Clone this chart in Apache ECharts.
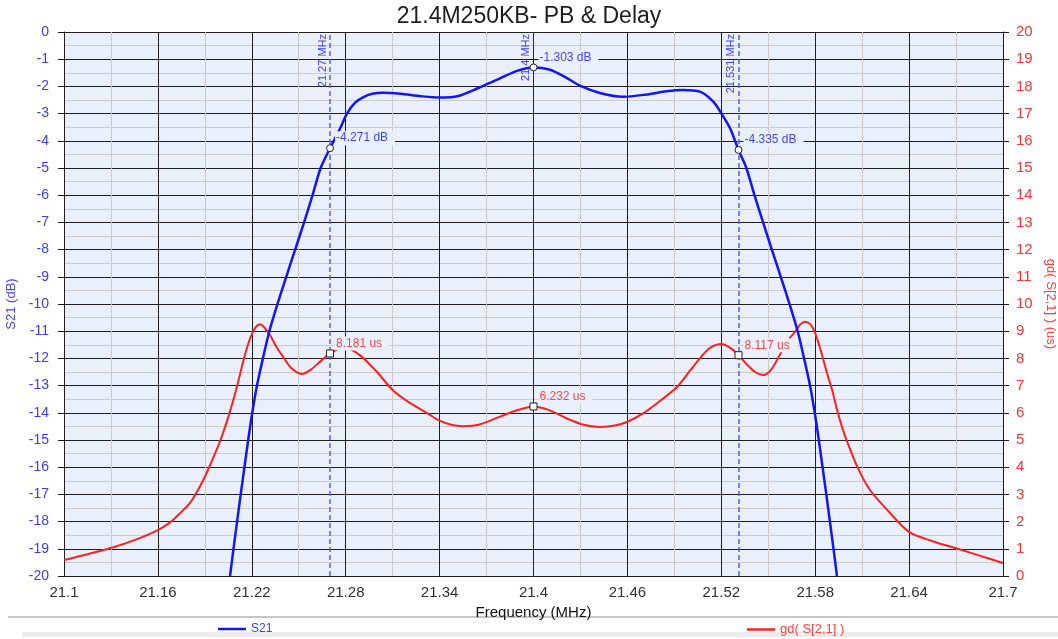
<!DOCTYPE html>
<html>
<head>
<meta charset="utf-8">
<script src="https://cdn.jsdelivr.net/npm/echarts@6/dist/echarts.min.js"></script>
<style>
  html, body { margin: 0; padding: 0; background: #fff; }
  #chart { width: 1058px; height: 639px; }
</style>
</head>
<body>
<div id="chart"></div>
<script>
// S21 (dB) trace
var s21Freq = [21.2061, 21.2083, 21.2106, 21.2129, 21.2153, 21.2177, 21.2203, 21.2233, 21.2271, 21.2312, 21.2364,
  21.242, 21.2477, 21.2534, 21.2588, 21.264, 21.27, 21.2764, 21.2808, 21.286, 21.291, 21.297, 21.304,
  21.315, 21.328, 21.34, 21.352, 21.365, 21.378, 21.39, 21.4, 21.41, 21.42, 21.43, 21.443, 21.457,
  21.472, 21.485, 21.4955, 21.5064, 21.5149, 21.52, 21.5256, 21.531, 21.536, 21.5412, 21.5467, 21.5523,
  21.558, 21.5636, 21.5688, 21.5729, 21.5767, 21.5797, 21.5823, 21.5847, 21.5871, 21.5894, 21.5917, 21.5939];
var s21Db = [-20, -19, -18, -17, -16, -15, -14, -13, -12, -11, -10,
  -9, -8, -7, -6, -5, -4.271, -3.55, -3.0, -2.6, -2.4, -2.27, -2.23,
  -2.27, -2.36, -2.41, -2.35, -2.05, -1.72, -1.42, -1.303, -1.38, -1.65, -1.98, -2.25, -2.38,
  -2.3, -2.18, -2.13, -2.19, -2.56, -2.99, -3.54, -4.335, -5, -6, -7, -8,
  -9, -10, -11, -12, -13, -14, -15, -16, -17, -18, -19, -20];

// group delay (us) trace
var gdFreq = [21.1, 21.115, 21.13, 21.145, 21.16, 21.168, 21.174, 21.18, 21.185, 21.19, 21.195,
  21.2, 21.205, 21.21, 21.215, 21.219, 21.2225, 21.2255, 21.2285, 21.2316, 21.236,
  21.24, 21.245, 21.252, 21.258, 21.264, 21.27, 21.279, 21.289, 21.3, 21.31, 21.32, 21.332, 21.34,
  21.348, 21.355, 21.365, 21.3787, 21.39, 21.4, 21.41, 21.421, 21.432, 21.4425, 21.452, 21.46, 21.47,
  21.48, 21.4917, 21.5, 21.508, 21.513, 21.52, 21.526, 21.531, 21.536, 21.5415, 21.5467, 21.552, 21.559,
  21.563, 21.567, 21.5705, 21.5735, 21.577, 21.58, 21.584, 21.5875, 21.591, 21.594, 21.597, 21.6,
  21.607, 21.615, 21.626, 21.64, 21.655, 21.67, 21.685, 21.7];
var gdUs = [0.59, 0.8, 1.03, 1.32, 1.69, 1.98, 2.3, 2.65, 3.1, 3.65, 4.3,
  5.0, 5.85, 6.85, 8.0, 8.75, 9.15, 9.26, 9.1, 8.86, 8.4,
  8.06, 7.66, 7.43, 7.6, 7.9, 8.181, 8.4, 8.12, 7.5, 6.84, 6.4, 5.99, 5.71,
  5.55, 5.51, 5.56, 5.86, 6.1, 6.232, 6.1, 5.8, 5.56, 5.48, 5.53, 5.67, 5.98,
  6.4, 6.95, 7.55, 8.12, 8.4, 8.53, 8.38, 8.117, 7.8, 7.5, 7.39, 7.6, 8.3,
  8.7, 8.97, 9.25, 9.35, 9.25, 8.93, 8.2, 7.46, 6.8, 6.1, 5.5, 5.0,
  4.0, 3.16, 2.43, 1.62, 1.28, 1.02, 0.75, 0.48];

// markers
var markerFreq = [21.27, 21.4, 21.531];
var markerDb = [-4.271, -1.303, -4.335];
var markerUs = [8.181, 6.232, 8.117];

var plotBg = '#e9f0fb';
var blue = '#1414f5';
var red = '#ff1f1f';
var font = 'Liberation Sans, Arial, sans-serif';

function pairs(xs, ys) {
  return xs.map(function (x, i) { return [x, ys[i]]; });
}

var chart = echarts.init(document.getElementById('chart'));

var markerLines = markerFreq.map(function (f, i) {
  var center = i === 1;
  return [
    { coord: [f, -20],
      lineStyle: center ? { color: '#1a1aa8', type: 'solid', width: 1 } : { color: '#5a5aff', type: [5, 3], width: 1.5 },
      label: { formatter: f + ' MHz' } },
    { coord: [f, 0] }
  ];
});

function markLabel(unit) {
  return {
    show: true,
    position: 'right',
    distance: 1,
    offset: [0, -10],
    formatter: function (p) { return p.value.toFixed(3) + ' ' + unit; },
    fontSize: 12,
    fontFamily: font,
    color: unit === 'dB' ? '#4545ff' : '#ff4545',
    backgroundColor: plotBg,
    padding: [1, 7, 1, 1]
  };
}

chart.setOption({
  animation: false,
  backgroundColor: '#fff',
  title: {
    text: '21.4M250KB- PB & Delay',
    left: 'center',
    top: 0,
    textStyle: { fontSize: 23, fontWeight: 'normal', color: '#1e1e1e', fontFamily: font }
  },
  grid: {
    left: 64, right: 55, top: 32, bottom: 63,
    outerBoundsMode: 'none',
    containLabel: false,
    show: true, backgroundColor: plotBg, borderWidth: 0
  },
  legend: [
    {
      data: [{ name: 'S21', textStyle: { color: '#4040ff' } }],
      left: 213, top: 618, icon: 'rect', itemWidth: 28, itemHeight: 2.5,
      textStyle: { fontSize: 12, fontFamily: font }
    },
    {
      data: [{ name: 'gd( S[2,1] )', textStyle: { color: '#ff4040' } }],
      left: 742, top: 618, icon: 'rect', itemWidth: 28, itemHeight: 2.5,
      textStyle: { fontSize: 13, fontFamily: font }
    }
  ],
  graphic: [
    { type: 'line', shape: { x1: 8, y1: 617, x2: 1058, y2: 617 }, style: { stroke: '#8c8c8c', lineWidth: 1 }, silent: true },
    { type: 'rect', shape: { x: 22, y: 632, width: 1036, height: 5 }, style: { fill: '#ececec' }, silent: true }
  ],
  xAxis: {
    type: 'value',
    min: 21.1, max: 21.7, interval: 0.06,
    name: 'Frequency (MHz)',
    nameLocation: 'middle',
    nameGap: 25,
    nameTextStyle: { fontSize: 15, color: '#111', fontFamily: font },
    axisLine: { show: true, onZero: false, lineStyle: { color: '#1e1e1e' } },
    axisTick: { show: false },
    axisLabel: { margin: 9, fontSize: 15, color: '#333', fontFamily: font },
    splitLine: { show: true, lineStyle: { color: '#1e1e1e', width: 1 } },
    minorTick: { show: false, splitNumber: 2 },
    minorSplitLine: { show: true, lineStyle: { color: '#cbcbcb', width: 1 } }
  },
  yAxis: [
    {
      type: 'value',
      min: -20, max: 0, interval: 1,
      name: 'S21 (dB)',
      nameLocation: 'middle',
      nameGap: 43,
      nameTextStyle: { fontSize: 13, color: '#4545ff', fontFamily: font },
      axisLine: { show: true, lineStyle: { color: '#1e1e1e' } },
      axisTick: { show: true, length: 6, lineStyle: { color: '#1e1e1e' } },
      axisLabel: { margin: 15, fontSize: 14, color: '#3c3cff', fontFamily: font },
      splitLine: { show: true, lineStyle: { color: '#1e1e1e', width: 1 } },
      minorTick: { show: false, splitNumber: 2 },
      minorSplitLine: { show: true, lineStyle: { color: '#cbcbcb', width: 1 } }
    },
    {
      type: 'value',
      min: 0, max: 20, interval: 1,
      position: 'right',
      name: 'gd( S[2,1] ) (us)',
      nameLocation: 'middle',
      nameRotate: -90,
      nameGap: 36,
      nameTextStyle: { fontSize: 13, color: '#ff3b3b', fontFamily: font },
      axisLine: { show: true, lineStyle: { color: '#1e1e1e' } },
      axisTick: { show: true, length: 6, lineStyle: { color: '#1e1e1e' } },
      axisLabel: { margin: 13, fontSize: 15, color: '#ff3333', fontFamily: font },
      splitLine: { show: false }
    }
  ],
  series: [
    {
      name: 'S21',
      type: 'line',
      yAxisIndex: 0,
      data: pairs(s21Freq, s21Db),
      symbol: 'none',
      smooth: 0.3,
      lineStyle: { color: blue, width: 2.5 },
      itemStyle: { color: blue },
      z: 3,
      markLine: {
        silent: true,
        symbol: ['none', 'none'],
        animation: false,
        label: {
          show: true,
          position: 'insideEndTop',
          distance: 2,
          fontSize: 11,
          color: '#4040ff',
          fontFamily: font
        },
        data: markerLines
      },
      markPoint: {
        symbol: 'circle',
        symbolSize: 7,
        itemStyle: { color: '#fff', borderColor: '#222', borderWidth: 1 },
        label: markLabel('dB'),
        data: markerFreq.map(function (f, i) { return { coord: [f, markerDb[i]], value: markerDb[i] }; })
      }
    },
    {
      name: 'gd( S[2,1] )',
      type: 'line',
      yAxisIndex: 1,
      data: pairs(gdFreq, gdUs),
      symbol: 'none',
      smooth: 0.3,
      lineStyle: { color: red, width: 2 },
      itemStyle: { color: red },
      z: 2,
      markPoint: {
        symbol: 'rect',
        symbolSize: 7,
        itemStyle: { color: '#fff', borderColor: '#222', borderWidth: 1 },
        label: markLabel('us'),
        data: markerFreq.map(function (f, i) { return { coord: [f, markerUs[i]], value: markerUs[i] }; })
      }
    }
  ]
});
</script>
</body>
</html>
